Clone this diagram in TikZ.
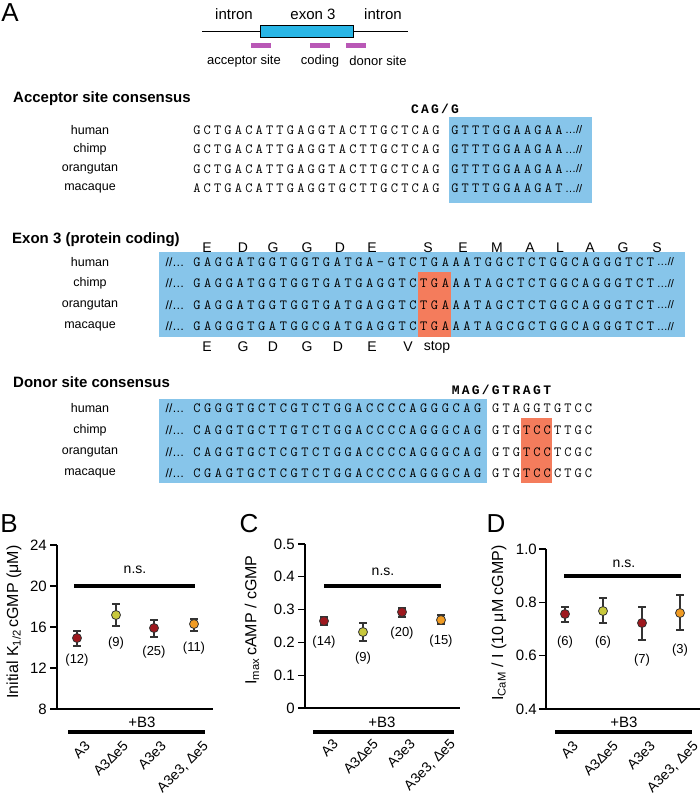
\documentclass[tikz,border=0pt]{standalone}
\usepackage{fontspec}
\setmainfont{Liberation Sans}
\newfontfamily\hdrmono{Liberation Mono}
\definecolor{seqblue}{RGB}{135,197,234}
\definecolor{stoporange}{RGB}{244,124,92}
\definecolor{exonblue}{RGB}{41,182,230}
\definecolor{sitemag}{RGB}{185,88,182}
\definecolor{ptred}{RGB}{158,24,30}
\definecolor{ptyel}{RGB}{200,200,60}
\definecolor{ptorg}{RGB}{240,155,35}
\newlength\sqP
\def\sqEnd{\sqEnd}
\def\sqRun#1{\sqLoop#1\sqEnd}
\def\sqLoop#1{\ifx#1\sqEnd\else\makebox[\sqP]{#1}\expandafter\sqLoop\fi}
\newcommand\sqRow[2]{\setlength\sqP{#1pt}\sqRun{#2}}
\tikzset{
  panel/.style={font=\fontsize{26}{30}\selectfont, inner sep=0},
  gtxt/.style={font=\fontsize{15}{18}\selectfont, inner sep=0},
  stxt/.style={font=\fontsize{13}{16}\selectfont, inner sep=0},
  sitebar/.style={fill=sitemag, minimum width=20pt, minimum height=5pt, inner sep=0},
  ttl/.style={font=\fontsize{15}{18}\selectfont\bfseries, anchor=west, inner sep=0},
  lbl/.style={font=\fontsize{12.5}{15}\selectfont, inner sep=0},
  sq/.style={font=\fontsize{14}{16}\selectfont\ttfamily, anchor=west, inner sep=0},
  sqh/.style={font=\fontsize{13}{15}\selectfont\hdrmono\bfseries, anchor=west, inner sep=0},
  dotsl/.style={font=\fontsize{11}{13}\selectfont, anchor=west, inner sep=0.5pt},
  aa/.style={font=\fontsize{14}{16}\selectfont, inner sep=0},
  tick/.style={font=\fontsize{15}{18}\selectfont, anchor=east, inner sep=0},
  cnt/.style={font=\fontsize{13}{16}\selectfont, inner sep=0},
  ns/.style={font=\fontsize{14}{17}\selectfont, inner sep=0},
  xl/.style={font=\fontsize{14}{17}\selectfont, rotate=45, anchor=north east, inner sep=0},
  yl/.style={font=\fontsize{16}{19}\selectfont, rotate=90, inner sep=0},
  axis/.style={line width=1.2pt},
  fatbar/.style={line width=3.5pt},
  ebar/.style={line width=1.1pt, draw=black!80},
  mk/.style={circle, draw=black!80, line width=0.8pt, minimum size=9pt, inner sep=0},
}
\newcommand\errpt[6]{%
  \draw[ebar] (#2,#4) -- (#2,#5);
  \draw[ebar] (#2-4,#4) -- (#2+4,#4);
  \draw[ebar] (#2-4,#5) -- (#2+4,#5);
  \node[mk, fill=#6] (#1) at (#2,#3) {};}
\begin{document}
\begin{tikzpicture}[x=1pt,y=-1pt]
\useasboundingbox (0,0) rectangle (700,796);

% ---------- gene sketch ----------
\node[panel] (pA) at (10,13) {A};
\node[gtxt] (i1) at (234,14) {intron};
\node[gtxt] (e3) at (313,14) {exon 3};
\node[gtxt] (i2) at (383,14) {intron};
\node[draw=black, line width=0.7pt, fill=exonblue, minimum width=93pt, minimum height=12pt, inner sep=0] (ex) at (306.5,31) {};
\coordinate (gl) at (202,31);
\coordinate (gr) at (408,31);
\draw[line width=0.8pt] (gl) -- (ex.west) (ex.east) -- (gr);
\node[sitebar] (b1) at (261,45.5) {};
\node[sitebar] (b2) at (319.5,45.5) {};
\node[sitebar] (b3) at (356,45.5) {};
\node[stxt] (s1) at (244,61) {acceptor site};
\node[stxt] (s2) at (320,61) {coding};
\node[stxt] (s3) at (378,61) {donor site};

% ---------- acceptor ----------
\node[ttl] (tAcc) at (13,99) {Acceptor site consensus};
\fill[seqblue] (449,117) rectangle (592,203);
\node[sqh] (ah1) at (409.9,109) {\sqRow{10}{CAG/G}};
\node[lbl] (al1) at (90,130) {human};
\node[lbl] (al2) at (90,149.5) {chimp};
\node[lbl] (al3) at (90,169) {orangutan};
\node[lbl] (al4) at (90,188.5) {macaque};
\node[sq] (as1) at (191.5,130) {\sqRow{10.4}{GCTGACATTGAGGTACTTGCTCAG}};
\node[sq] (as2) at (191.5,149.5) {\sqRow{10.4}{GCTGACATTGAGGTACTTGCTCAG}};
\node[sq] (as3) at (191.5,169) {\sqRow{10.4}{GCTGACATTGAGGTACTTGCTCAG}};
\node[sq] (as4) at (191.5,188.5) {\sqRow{10.4}{ACTGACATTGAGGTGCTTGCTCAG}};
\node[sq] (ab1) at (449.5,130) {\sqRow{10.4}{GTTTGGAAGAA}};
\node[sq] (ab2) at (449.5,149.5) {\sqRow{10.4}{GTTTGGAAGAA}};
\node[sq] (ab3) at (449.5,169) {\sqRow{10.4}{GTTTGGAAGAA}};
\node[sq] (ab4) at (449.5,188.5) {\sqRow{10.4}{GTTTGGAAGAT}};
\node[dotsl] (ae1) at (ab1.east) {…//};
\node[dotsl] (ae2) at (ab2.east) {…//};
\node[dotsl] (ae3) at (ab3.east) {…//};
\node[dotsl] (ae4) at (ab4.east) {…//};

% ---------- exon 3 ----------
\node[ttl] (tEx) at (12,240) {Exon 3 (protein coding)};
\fill[seqblue] (159,252) rectangle (685,337);
\fill[stoporange] (418.2,272) rectangle (450.6,337);
\foreach \ch/\xx [count=\k] in {E/207,D/243,G/273,G/307,D/340,E/372,S/428,E/463,M/497,A/530,L/560,A/590,G/623,S/657}
  \node[aa] (at\k) at (\xx,248) {\ch};
\foreach \ch/\xx [count=\k] in {E/207,G/243,D/273,G/307,D/338,E/372,V/408,stop/437}
  \node[aa] (ab\k) at (\xx,347) {\ch};
\node[lbl] (el1) at (90,262) {human};
\node[lbl] (el2) at (90,283.5) {chimp};
\node[lbl] (el3) at (90,305) {orangutan};
\node[lbl] (el4) at (90,326.5) {macaque};
\foreach \yy [count=\k] in {262,283.5,305,326.5}
  \node[dotsl, font=\fontsize{12}{14}\selectfont] (eb\k) at (165,\yy) {//…};
\node[sq] (es1) at (191.4,262) {\sqRow{10.8}{GAGGATGGTGGTGATGA-GTCTGAAATGGCTCTGGCAGGGTCT}};
\node[sq] (es2) at (191.4,283.5) {\sqRow{10.8}{GAGGATGGTGGTGATGAGGTCTGAAATAGCTCTGGCAGGGTCT}};
\node[sq] (es3) at (191.4,305) {\sqRow{10.8}{GAGGATGGTGGTGATGAGGTCTGAAATAGCTCTGGCAGGGTCT}};
\node[sq] (es4) at (191.4,326.5) {\sqRow{10.8}{GAGGGTGATGGCGATGAGGTCTGAAATAGCGCTGGCAGGGTCT}};
\node[dotsl] (ee1) at (es1.east) {…//};
\node[dotsl] (ee2) at (es2.east) {…//};
\node[dotsl] (ee3) at (es3.east) {…//};
\node[dotsl] (ee4) at (es4.east) {…//};

% ---------- donor ----------
\node[ttl] (tDo) at (13,382) {Donor site consensus};
\fill[seqblue] (159,399) rectangle (487,483);
\fill[stoporange] (521.4,418) rectangle (552.3,483);
\node[sqh] (dh1) at (450.5,390) {\sqRow{10}{MAG/}};
\node[sqh] (dh2) at (490.5,390) {\sqRow{10.3}{GTRAGT}};
\node[lbl] (dl1) at (90,408) {human};
\node[lbl] (dl2) at (90,430) {chimp};
\node[lbl] (dl3) at (90,452) {orangutan};
\node[lbl] (dl4) at (90,473) {macaque};
\foreach \yy [count=\k] in {408,430,452,473}
  \node[dotsl, font=\fontsize{12}{14}\selectfont] (db\k) at (165,\yy) {//…};
\node[sq] (ds1) at (191.4,408) {\sqRow{10.8}{CGGGTGCTCGTCTGGACCCCAGGGCAG}};
\node[sq] (ds2) at (191.4,430) {\sqRow{10.8}{CAGGTGCTTGTCTGGACCCCAGGGCAG}};
\node[sq] (ds3) at (191.4,452) {\sqRow{10.8}{CAGGTGCTCGTCTGGACCCCAGGGCAG}};
\node[sq] (ds4) at (191.4,473) {\sqRow{10.8}{CGAGTGCTCGTCTGGACCCCAGGGCAG}};
\node[sq] (dr1) at (490.5,408) {\sqRow{10.3}{GTAGGTGTCC}};
\node[sq] (dr2) at (490.5,430) {\sqRow{10.3}{GTGTCCTTGC}};
\node[sq] (dr3) at (490.5,452) {\sqRow{10.3}{GTGTCCTCGC}};
\node[sq] (dr4) at (490.5,473) {\sqRow{10.3}{GTGTCCCTGC}};

% ---------- panel B ----------
\node[panel] (pB) at (9,524) {B};
\draw[axis] (57,545) -- (57,709) -- (213,709);
\foreach \v/\yy in {24/545,20/586,16/627,12/668,8/709}{
  \draw[axis] (50,\yy) -- (57,\yy);
  \node[tick] (tB\v) at (47,\yy) {\v};}
\node[yl] (ylB) at (14,622) {Initial K\textsubscript{1/2}\,cGMP (μM)};
\node[ns] (nsB) at (135,570) {n.s.};
\draw[fatbar] (74,586) -- (195,586);
\errpt{pB1}{77}{638}{631}{646}{ptred}
\errpt{pB2}{116}{615}{604}{626}{ptyel}
\errpt{pB3}{154}{628}{620}{637}{ptred}
\errpt{pB4}{194}{624}{619}{631}{ptorg}
\node[cnt] (cB1) at (77,660) {(12)};
\node[cnt] (cB2) at (116,643) {(9)};
\node[cnt] (cB3) at (154,652) {(25)};
\node[cnt] (cB4) at (194,648) {(11)};
\node[gtxt] (b3B) at (142,722) {+B3};
\draw[fatbar] (68,732) -- (205,732);
\node[xl] (xB1) at (84,740) {A3};
\node[xl] (xB2) at (122,740) {A3Δe5};
\node[xl] (xB3) at (160,740) {A3e3};
\node[xl] (xB4) at (202,740) {A3e3, Δe5};

% ---------- panel C ----------
\node[panel] (pC) at (249,524) {C};
\draw[axis] (305,544) -- (305,708) -- (460,708);
\foreach \v/\yy in {0.5/544,0.4/576.8,0.3/609.6,0.2/642.4,0.1/675.2,0/708}{
  \draw[axis] (298,\yy) -- (305,\yy);
  \node[tick] at (295,\yy) {\v};}
\node[yl] (ylC) at (252,620) {I\textsubscript{max}\,cAMP / cGMP};
\node[ns] (nsC) at (383,572) {n.s.};
\draw[fatbar] (324,586) -- (441,586);
\errpt{pC1}{324}{621}{617}{625}{ptred}
\errpt{pC2}{363}{632}{623}{641}{ptyel}
\errpt{pC3}{402}{612}{608}{617}{ptred}
\errpt{pC4}{441}{620}{615}{624}{ptorg}
\node[cnt] (cC1) at (324,642) {(14)};
\node[cnt] (cC2) at (363,658) {(9)};
\node[cnt] (cC3) at (402,633) {(20)};
\node[cnt] (cC4) at (441,641) {(15)};
\node[gtxt] (b3C) at (382,722) {+B3};
\draw[fatbar] (313,732) -- (454,732);
\node[xl] (xC1) at (332,738) {A3};
\node[xl] (xC2) at (372,738) {A3Δe5};
\node[xl] (xC3) at (409,738) {A3e3};
\node[xl] (xC4) at (449,738) {A3e3, Δe5};

% ---------- panel D ----------
\node[panel] (pD) at (496,524) {D};
\draw[axis] (546,549) -- (546,709) -- (700,709);
\foreach \v/\yy in {1.0/549,0.8/602.3,0.6/655.7,0.4/709}{
  \draw[axis] (539,\yy) -- (546,\yy);
  \node[tick] at (537,\yy) {\v};}
\node[yl] (ylD) at (499,623) {I\textsubscript{CaM} / I (10 μM cGMP)};
\node[ns] (nsD) at (624,564) {n.s.};
\draw[fatbar] (564,576) -- (681,576);
\errpt{pD1}{565}{614}{607}{622}{ptred}
\errpt{pD2}{603}{611}{598}{623}{ptyel}
\errpt{pD3}{642}{623}{607}{640}{ptred}
\errpt{pD4}{680}{613}{595}{630}{ptorg}
\node[cnt] (cD1) at (565,642) {(6)};
\node[cnt] (cD2) at (603,642) {(6)};
\node[cnt] (cD3) at (642,660) {(7)};
\node[cnt] (cD4) at (680,650) {(3)};
\node[gtxt] (b3D) at (624,722) {+B3};
\draw[fatbar] (555,732) -- (692,732);
\node[xl] (xD1) at (572,740) {A3};
\node[xl] (xD2) at (612,740) {A3Δe5};
\node[xl] (xD3) at (649,740) {A3e3};
\node[xl] (xD4) at (692,740) {A3e3, Δe5};
\end{tikzpicture}
\end{document}
